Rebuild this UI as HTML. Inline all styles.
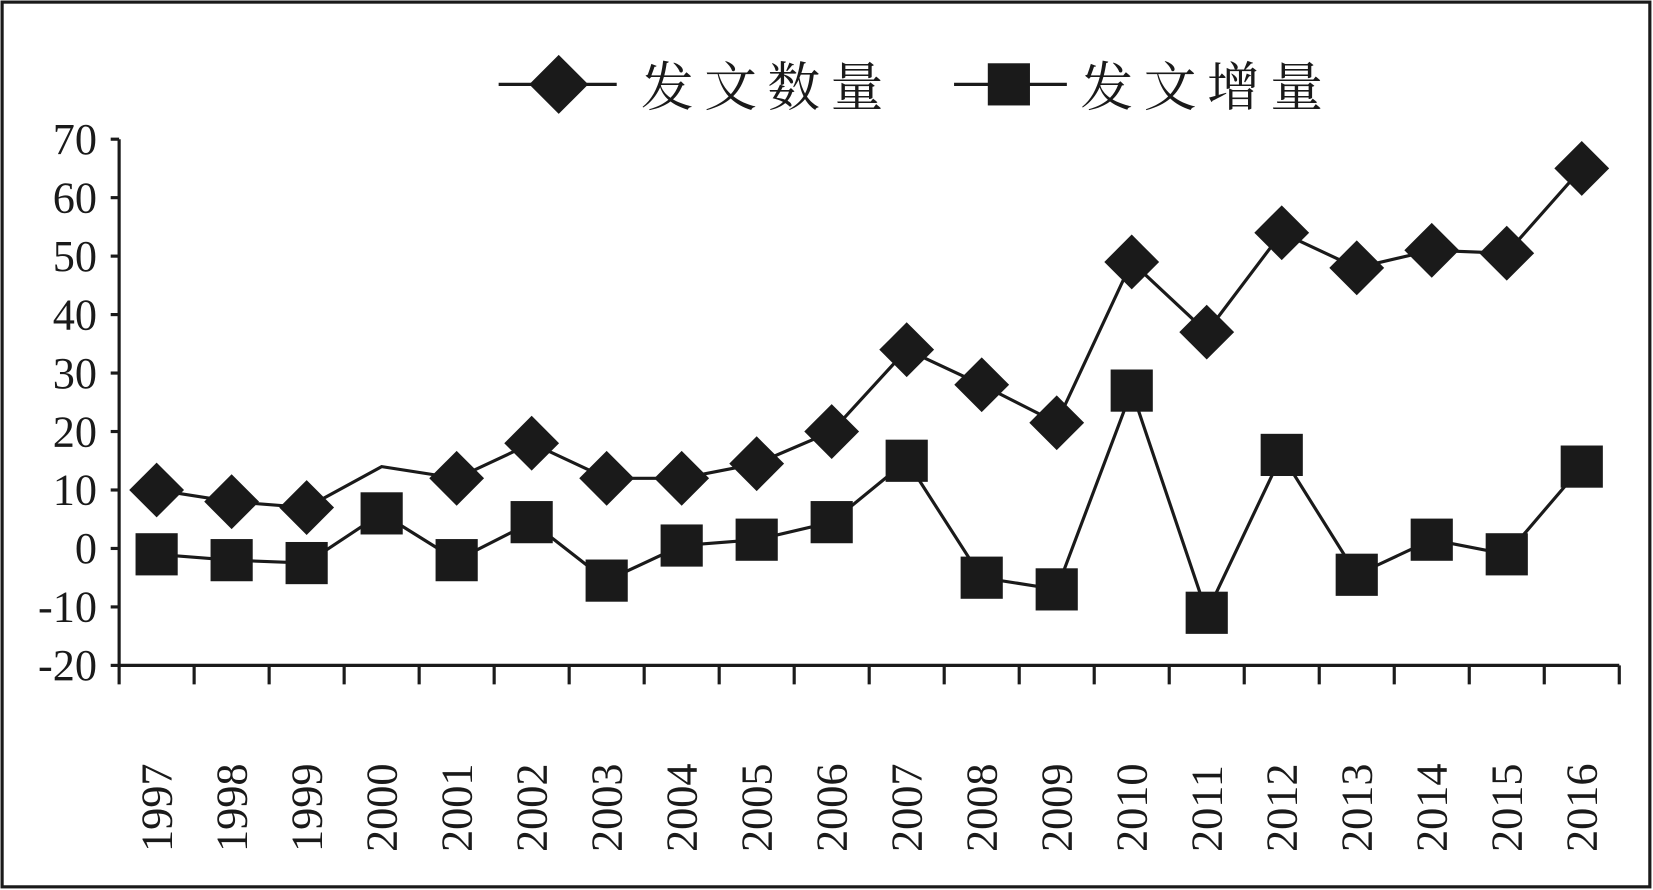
<!DOCTYPE html>
<html><head><meta charset="utf-8"><style>
html,body{margin:0;padding:0;background:#fff;}
svg{display:block;}
text{font-family:"Liberation Serif","Noto Serif CJK SC",serif;fill:#1a1a1a;}
</style></head><body>
<svg width="1653" height="890" viewBox="0 0 1568 844" preserveAspectRatio="none" xmlns="http://www.w3.org/2000/svg">
<rect x="2" y="2" width="1563" height="839" fill="#fff" stroke="#1a1a1a" stroke-width="3"/>
<g>
  <g>
    <line x1="473" y1="80" x2="585" y2="80" stroke="#1a1a1a" stroke-width="3"/>
    <polygon points="530,52 558,80 530,108 502,80" fill="#1a1a1a"/>
    <text x="608" y="100" font-size="50" letter-spacing="10" font-family="'Noto Sans CJK SC',sans-serif">发文数量</text>
  </g>
  <g>
    <line x1="905" y1="80" x2="1012" y2="80" stroke="#1a1a1a" stroke-width="3"/>
    <rect x="937" y="60" width="40" height="40" fill="#1a1a1a"/>
    <text x="1025" y="100" font-size="50" letter-spacing="10" font-family="'Noto Sans CJK SC',sans-serif">发文增量</text>
  </g>
</g>
<g id="axes"></g>
<g id="plot"></g>
</svg>
<script>
const years=["1997","1998","1999","2000","2001","2002","2003","2004","2005","2006","2007","2008","2009","2010","2011","2012","2013","2014","2015","2016"];
const countValues=[10,8,7,14,12,18,12,12,14.5,20,34,28,21.5,49,37,54,48,51,50.5,65];
const growthValues=[-1,-2,-2.5,6,-2,4.5,-5.5,0.5,1.5,4.5,15,-5,-7,27,-11,16,-4.5,1.5,-1,14];
const yTicks=[70,60,50,40,30,20,10,0,-10,-20];
const countNoMarker=["2000"];

const NS="http://www.w3.org/2000/svg";
const X0=113,X1=1536,YTOP=132,YBOT=631,YMAX=70,YMIN=-20;
const step=(X1-X0)/years.length;
function xPos(i){return X0+step*(i+0.5);}
function yPos(v){return YBOT-(v-YMIN)/(YMAX-YMIN)*(YBOT-YTOP);}
function mk(tag,attrs,parent){const e=document.createElementNS(NS,tag);for(const k in attrs)e.setAttribute(k,attrs[k]);parent.appendChild(e);return e;}
const axes=document.getElementById('axes'),plot=document.getElementById('plot');

const yAxis=mk('line',{x1:X0,y1:YTOP,x2:X0,y2:YBOT,stroke:'#1a1a1a','stroke-width':3},axes);


const xAxis=mk('line',{x1:X0,y1:YBOT,x2:X1,y2:YBOT,stroke:'#1a1a1a','stroke-width':3},axes);


yTicks.forEach(v=>{
  const y=yPos(v);
  const t=mk('line',{x1:X0-8,y1:y,x2:X0,y2:y,stroke:'#1a1a1a','stroke-width':3},axes);
  
  
  const l=mk('text',{x:92,y:y+14,'font-size':42,'text-anchor':'end'},axes);
  
  
  l.textContent=v;
});
for(let i=0;i<=years.length;i++){
  const x=X0+step*i;
  const t=mk('line',{x1:x,y1:YBOT,x2:x,y2:YBOT+18,stroke:'#1a1a1a','stroke-width':3},axes);
  
  
}
years.forEach((yr,i)=>{
  const x=xPos(i)+14;
  const l=mk('text',{x:x,y:808,'font-size':42,transform:`rotate(-90 ${x} 808)`},axes);
  
  
  l.textContent=yr;
});

const p1=mk('polyline',{points:countValues.map((v,i)=>xPos(i)+','+yPos(v)).join(' '),fill:'none',stroke:'#1a1a1a','stroke-width':3},plot);


const p2=mk('polyline',{points:growthValues.map((v,i)=>xPos(i)+','+yPos(v)).join(' '),fill:'none',stroke:'#1a1a1a','stroke-width':3},plot);


countValues.forEach((v,i)=>{
  if(countNoMarker.includes(years[i]))return;
  const x=xPos(i),y=yPos(v),r=26;
  const d=mk('polygon',{points:`${x},${y-r} ${x+r},${y} ${x},${y+r} ${x-r},${y}`,fill:'#1a1a1a'},plot);
  
  
});
growthValues.forEach((v,i)=>{
  const x=xPos(i),y=yPos(v),s=40;
  const r=mk('rect',{x:x-s/2,y:y-s/2,width:s,height:s,fill:'#1a1a1a'},plot);
  
  
});
</script>
</body></html>
